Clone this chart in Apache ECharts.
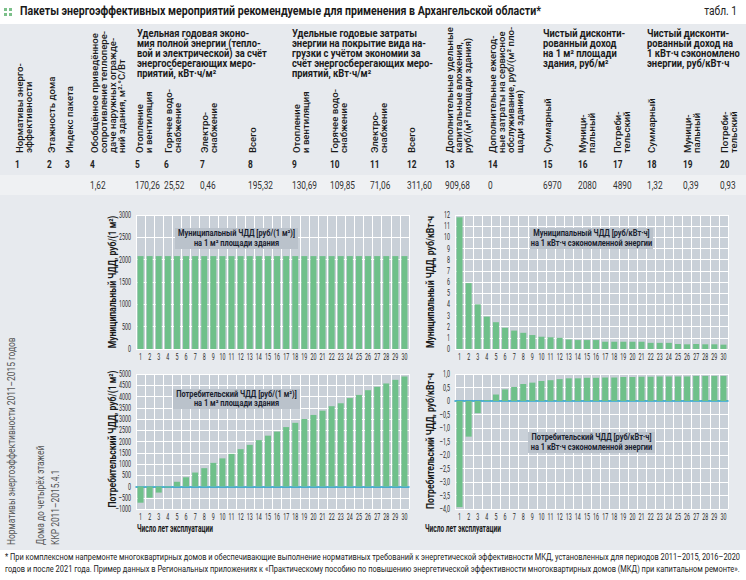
<!DOCTYPE html>
<html><head><meta charset="utf-8">
<script src="https://cdn.jsdelivr.net/npm/echarts@6/dist/echarts.min.js"></script>
<style>html,body{margin:0;padding:0;background:#fff}#c{width:746px;height:580px}</style>
</head><body><div id="c"></div>
<script>
// ---------- DATA ----------
const years = ['1','2','3','4','5','6','7','8','9','10','11','12','13','14','15','16','17','18','19','20','21','22','23','24','25','26','27','28','29','30'];
const municipalPerM2 = [2080,2080,2080,2080,2080,2080,2080,2080,2080,2080,2080,2080,2080,2080,2080,2080,2080,2080,2080,2080,2080,2080,2080,2080,2080,2080,2080,2080,2080,2080];
const consumerPerM2 = [-720,-500,-270,-40,210,410,620,815,1050,1250,1450,1660,1850,2060,2260,2440,2640,2830,3000,3180,3370,3570,3700,3930,4070,4280,4430,4580,4740,4890];
const municipalPerKwh = [11.8,5.9,4.0,2.9,2.4,1.9,1.65,1.45,1.25,1.1,1.05,1.0,0.85,0.8,0.8,0.8,0.65,0.65,0.65,0.65,0.65,0.55,0.55,0.55,0.45,0.42,0.45,0.42,0.42,0.39];
const consumerPerKwh = [-3.93,-1.32,-0.45,0.03,0.24,0.43,0.52,0.63,0.68,0.74,0.77,0.81,0.84,0.84,0.86,0.86,0.87,0.87,0.89,0.89,0.9,0.9,0.91,0.91,0.91,0.91,0.93,0.93,0.93,0.93];

const yTicksMunM2 = [0,500,1000,1500,2000,2500,3000];
const yLabelsMunM2 = ['0','500','1000','1500','2000','2500','3000'];
const yTicksConM2 = [-1000,-500,0,500,1000,1500,2000,2500,3000,3500,4000,4500,5000];
const yLabelsConM2 = ['–1000','–500','0','500','1000','1500','2000','2500','3000','3500','4000','4500','5000'];
const yTicksMunKwh = [0,1,2,3,4,5,6,7,8,9,10,11,12];
const yLabelsMunKwh = ['0','1','2','3','4','5','6','7','8','9','10','11','12'];
const yTicksConKwh = [-4,-3.5,-3,-2.5,-2,-1.5,-1,-0.5,0,0.5,1];
const yLabelsConKwh = ['–4,0','–3,5','–3,0','–2,5','–2,0','–1,5','–1,0','–0,5','0','0,5','1,0'];

const titleText = 'Пакеты энергоэффективных мероприятий рекомендуемые для применения в Архангельской области*';
const tableLabel = 'табл. 1';
const colNumbers = ['1','2','3','4','5','6','7','8','9','10','11','12','13','14','15','16','17','18','19','20'];
const rowValues = ['','','','1,62','170,26','25,52','0,46','195,32','130,69','109,85','71,06','311,60','909,68','0','6970','2080','4890','1,32','0,39','0,93'];
const colHeaders = [
  ['Нормативы энерго-','эффективности'],
  ['Этажность дома'],
  ['Индекс пакета'],
  ['Обобщённое приведённое','сопротивление теплопере-','даче наружных огражде-','ний здания, м²·°С/Вт'],
  ['Отопление','и вентиляция'],
  ['Горячее водо-','снабжение'],
  ['Электро-','снабжение'],
  ['Всего'],
  ['Отопление','и вентиляция'],
  ['Горячее водо-','снабжение'],
  ['Электро-','снабжение'],
  ['Всего'],
  ['Дополнительные удельные','капитальные вложения,','руб/(м² площади здания)'],
  ['Дополнительные ежегод-','ные затраты на сервисное','обслуживание, руб/(м² пло-','щади здания)'],
  ['Суммарный'],
  ['Муници-','пальный'],
  ['Потреби-','тельский'],
  ['Суммарный'],
  ['Муници-','пальный'],
  ['Потреби-','тельский']
];
const groupHeaders = [
  ['Удельная годовая эконо-','мия полной энергии (тепло-','вой и электрической) за счёт','энергосберегающих меро-','приятий, кВт·ч/м²'],
  ['Удельные годовые затраты','энергии на покрытие вида на-','грузки с учётом экономии за','счёт энергосберегающих меро-','приятий, кВт·ч/м²'],
  ['Чистый дисконти-','рованный доход','на 1 м² площади','здания, руб/м²'],
  ['Чистый дисконти-','рованный доход на','1 кВт·ч сэкономлено','энергии, руб/кВт·ч']
];
const rowLabels = ['Нормативы энергоэффективности 2011–2015 годов','Дома до четырёх этажей','ККР 2011–2015.4.1'];
const chartTitles = [
  ['Муниципальный ЧДД [руб/(1 м²)]','на 1 м² площади здания'],
  ['Потребительский ЧДД [руб/(1 м²)]','на 1 м² площади здания'],
  ['Муниципальный ЧДД [руб/кВт·ч]','на 1 кВт·ч сэкономленной энергии'],
  ['Потребительский ЧДД [руб/кВт·ч]','на 1 кВт·ч сэкономленной энергии']
];
const axisNames = ['Муниципальный ЧДД, руб/(1 м²)','Потребительский ЧДД, руб/(1 м²)','Муниципальный ЧДД, руб/кВт·ч','Потребительский ЧДД, руб/кВт·ч'];
const xName = 'Число лет эксплуатации';
const footnote = ['* При комплексном напремонте многоквартирных домов и обеспечивающие выполнение нормативных требований к энергетической эффективности МКД, установленных для периодов 2011–2015, 2016–2020',
  'годов и после 2021 года. Пример данных в Региональных приложениях к «Практическому пособию по повышению энергетической эффективности многоквартирных домов (МКД) при капитальном ремонте».'];

// ---------- LAYOUT ----------
const F = "Roboto, 'Liberation Sans', sans-serif";
const mctx = document.createElement('canvas').getContext('2d');
function tw(t, size, weight){ mctx.font = (weight||'normal') + ' ' + size + 'px ' + F; return mctx.measureText(t).width; }
function fit(t, size, weight, target){ return target / tw(t, size, weight); }

const sTitle = fit(titleText, 13, 'bold', 521);
const sHead = fit('сопротивление теплопере-', 9.2, '500', 122);
const sGroup = Math.min(fit('вой и электрической) за счёт', 10.5, 'bold', 130), fit('1 кВт·ч сэкономлено', 10.5, 'bold', 93));
const sNum = fit('170,26', 11.5, 'normal', 25);
const sRow = fit(rowLabels[0], 10.5, 'normal', 208);
const sBox = fit(chartTitles[0][0], 8.5, 'bold', 117);
const sXName = fit(xName, 11, 'bold', 76);
const sYName = fit(axisNames[0], 10.5, 'bold', 133);
const sTick = fit('3000', 9, 'normal', 12);

const colX = [15,47,65,90,135,164,200,248,292,330,370,407,445,488,543,578,613,647,683,720];
const groupX = [137,292,543,647];
const g = [];
function txt(x, y, t, size, weight, fill, align, vAlign, scale, rot, extra){
  const el = {type:'text', x:x, y:y, scaleX:scale||1, rotation:rot||0, z:20,
    style:Object.assign({text:t, fontFamily:F, fontSize:size, fontWeight:weight||'normal', fill:fill||'#222', align:align||'left', verticalAlign:vAlign||'middle'}, extra||{})};
  g.push(el); return el;
}
// backgrounds
g.push({type:'rect', z:-10, shape:{x:0,y:24,width:746,height:526}, style:{fill:'#e7eaee'}});
g.push({type:'rect', z:-9, shape:{x:0,y:175,width:746,height:20}, style:{fill:'#eff1f3'}});
// icon
[[4,8],[9,8],[4,13],[9,13]].forEach(p=>g.push({type:'rect', shape:{x:p[0],y:p[1],width:3,height:3}, style:{fill:'#7cc08a'}}));
txt(20, 11, titleText, 13, 'bold', '#1a1a1a', 'left', 'middle', sTitle);
txt(737, 11, tableLabel, 12, 'normal', '#222', 'right', 'middle', 0.85);
colHeaders.forEach((lines,i)=>txt(colX[i], 153, lines.join('\n'), 9.2, '500', '#1a1a1a', 'left', 'top', sHead, Math.PI/2, {lineHeight:9}));
groupHeaders.forEach((lines,i)=>txt(groupX[i], 28, lines.join('\n'), 10.5, 'bold', '#1a1a1a', 'left', 'top', sGroup, 0, {lineHeight:10}));
colNumbers.forEach((t,i)=>txt(colX[i], 164, t, 11.5, 'bold', '#222', 'left', 'middle', sNum));
rowValues.forEach((t,i)=>{ if(t) txt(colX[i], 185, t, 11.5, 'normal', '#333', 'left', 'middle', sNum); });
const rowLabelX = [11,40,55];
rowLabels.forEach((t,i)=>txt(rowLabelX[i], 545, t, 10.5, 'normal', '#555', 'left', 'middle', sRow, Math.PI/2));
// chart annotation boxes
const boxes = [[175,228,123,21],[173,389,127,20],[530,228,123,21],[528,432,127,21]];
boxes.forEach((b,i)=>{
  g.push({type:'rect', z:50, shape:{x:b[0],y:b[1],width:b[2],height:b[3]}, style:{fill:'#bac2cb'}});
  const el = txt(b[0]+b[2]/2, b[1]+b[3]/2, chartTitles[i].join('\n'), 8.5, 'bold', '#1a2230', 'center', 'middle', sBox, 0, {lineHeight:9.5});
  el.z = 51;
});
txt(137, 528, xName, 11, 'bold', '#1a1a1a', 'left', 'middle', sXName);
txt(425, 528, xName, 11, 'bold', '#1a1a1a', 'left', 'middle', sXName);
footnote.forEach((t,i)=>txt(5, 557+i*12, t, 9, 'normal', '#222', 'left', 'middle', fit(t, 9, 'normal', 736)));

const grids = [
  {left:136, top:215, width:273, height:134},
  {left:136, top:374, width:273, height:135},
  {left:455, top:215, width:273, height:134},
  {left:455, top:374, width:273, height:135}
];
const yNameX = [112,112,430,430];
const yNameY = [282,439,282,441];
axisNames.forEach((t,i)=>txt(yNameX[i], yNameY[i], t, 10.5, 'bold', '#1a1a1a', 'center', 'middle', sYName, Math.PI/2));

const yTicks = [yTicksMunM2, yTicksConM2, yTicksMunKwh, yTicksConKwh];
const yLabels = [yLabelsMunM2, yLabelsConM2, yLabelsMunKwh, yLabelsConKwh];
const seriesData = [municipalPerM2, consumerPerM2, municipalPerKwh, consumerPerKwh];
const showZero = [false,true,false,true];

const option = {
  animation:false,
  graphic:{elements:g},
  grid: grids.map(gr=>Object.assign({show:true, backgroundColor:'#c9d0d8', borderWidth:0, containLabel:false}, gr)),
  xAxis: grids.map((gr,i)=>({
    type:'category', gridIndex:i, data:years,
    axisTick:{show:false},
    axisLine:{show:showZero[i], onZero:true, lineStyle:{color:'#1f9cc8', width:1.5}},
    axisLabel:{show:false},
    splitLine:{show:true, interval:0, lineStyle:{color:'#ffffff', width:1}}
  })),
  yAxis: grids.map((gr,i)=>({
    type:'value', gridIndex:i, min:yTicks[i][0], max:yTicks[i][yTicks[i].length-1], interval:yTicks[i][1]-yTicks[i][0],
    axisLine:{show:false}, axisTick:{show:false}, axisLabel:{show:false},
    splitLine:{show:true, lineStyle:{color:'#ffffff', width:1}}
  })),
  series: seriesData.map((d,i)=>({
    type:'bar', xAxisIndex:i, yAxisIndex:i, data:d, barWidth:'66%',
    itemStyle:{color:'#6fc08a'}
  }))
};
const chart = echarts.init(document.getElementById('c'), null, {renderer:'svg', width:746, height:580});
chart.setOption(option);
// tick labels placed through the axes' own scales
grids.forEach((gr,i)=>{
  yTicks[i].forEach((v,j)=>{
    const py = chart.convertToPixel({yAxisIndex:i}, v);
    txt(gr.left-5, py, yLabels[i][j], 9, 'normal', '#2a2a2a', 'right', 'middle', sTick);
  });
  years.forEach((c)=>{
    const px = chart.convertToPixel({xAxisIndex:i}, c);
    txt(px, gr.top+gr.height+8, c, 9, 'normal', '#2a2a2a', 'center', 'middle', sTick);
  });
});
chart.setOption({graphic:{elements:g}});
</script></body></html>
